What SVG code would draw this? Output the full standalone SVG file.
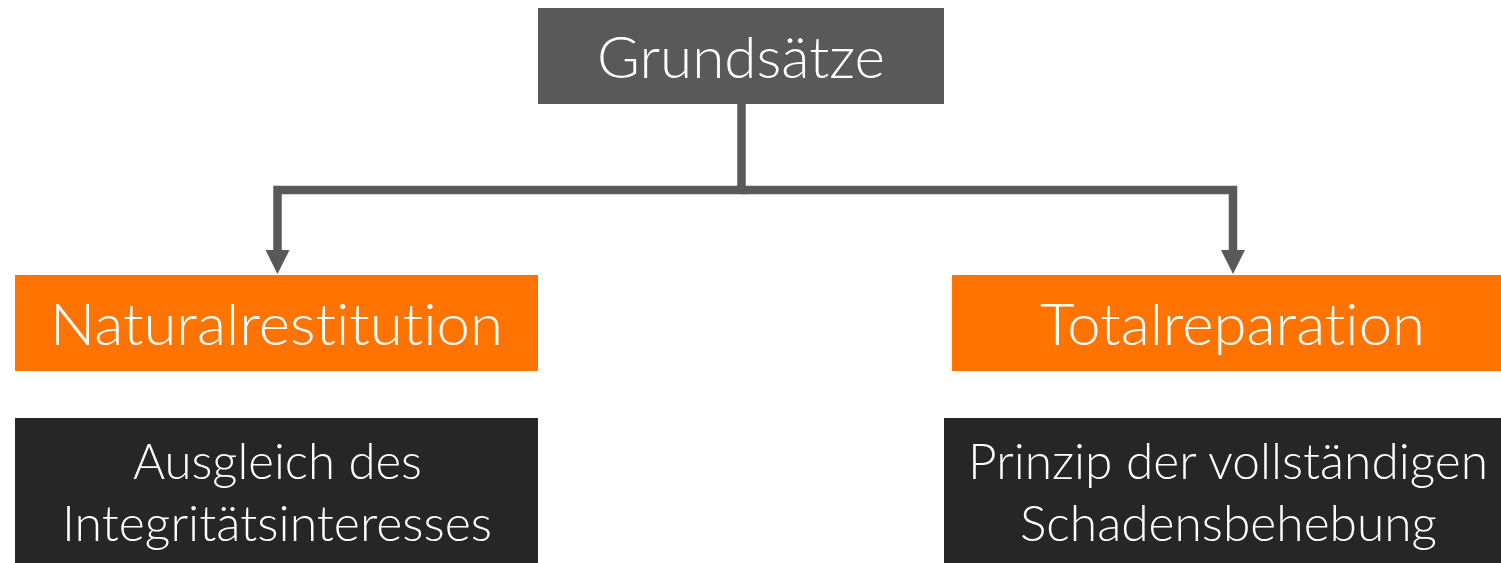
<svg xmlns="http://www.w3.org/2000/svg" width="1501" height="563" viewBox="0 0 1501 563">
<style>
.t{font-family:Lato,"Open Sans","Liberation Sans",sans-serif;font-weight:300;fill:#ffffff;text-anchor:middle;font-variant-ligatures:none;font-feature-settings:"liga" 0,"clig" 0,"dlig" 0}
.h{font-size:58px}
.d{font-size:50px}
.conn{fill:none;stroke:#595959;stroke-width:8.5;stroke-linejoin:miter}
</style>
<defs>
<marker id="arr" markerUnits="userSpaceOnUse" viewBox="0 0 24 24" markerWidth="24" markerHeight="24" refX="0" refY="12" orient="auto">
<path d="M0,0 L24,12 L0,24 Z" fill="#595959"/>
</marker>
</defs>
<rect width="1501" height="563" fill="#ffffff"/>
<g id="connectors">
<path class="conn" d="M741.5 104 V190 H277.5 V250" marker-end="url(#arr)"/>
<path class="conn" d="M741.5 190 H1233 V250" marker-end="url(#arr)"/>
</g>
<g id="grundsaetze">
<rect x="538" y="8" width="406" height="96" fill="#595959"/>
<text class="t h" x="741" y="78" textLength="288" lengthAdjust="spacingAndGlyphs">Grundsätze</text>
</g>
<g id="naturalrestitution">
<rect x="15" y="275" width="523" height="96" fill="#ff7300"/>
<text class="t h" x="276.5" y="345" textLength="453" lengthAdjust="spacingAndGlyphs">Naturalrestitution</text>
</g>
<g id="totalreparation">
<rect x="952" y="275" width="560" height="96" fill="#ff7300"/>
<text class="t h" x="1232.5" y="345" textLength="385" lengthAdjust="spacingAndGlyphs">Totalreparation</text>
</g>
<g id="integritaet">
<rect x="15" y="418" width="523" height="145" fill="#262626"/>
<text class="t d" x="277.5" y="479" textLength="289" lengthAdjust="spacingAndGlyphs">Ausgleich des</text>
<text class="t d" x="277" y="541" textLength="430" lengthAdjust="spacingAndGlyphs">Integritätsinteresses</text>
</g>
<g id="schadensbehebung">
<rect x="944" y="418" width="568" height="145" fill="#262626"/>
<text class="t d" x="1228" y="479" textLength="520" lengthAdjust="spacingAndGlyphs">Prinzip der vollständigen</text>
<text class="t d" x="1228.5" y="541" textLength="417" lengthAdjust="spacingAndGlyphs">Schadensbehebung</text>
</g>
</svg>
